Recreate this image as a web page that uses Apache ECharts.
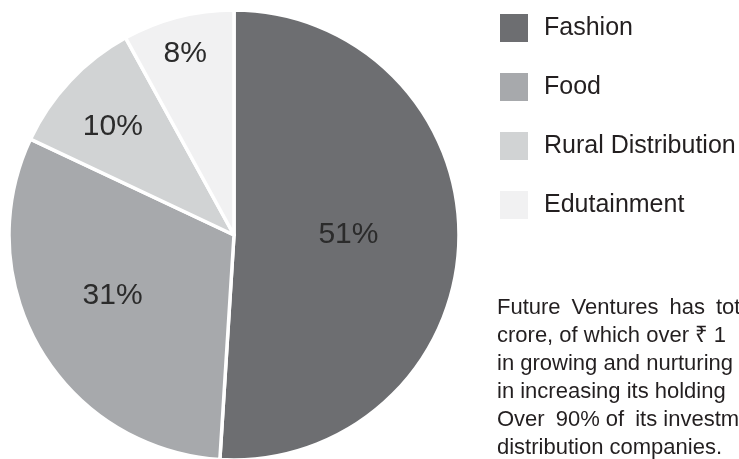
<!DOCTYPE html>
<html>
<head>
<meta charset="utf-8">
<script src="https://cdn.jsdelivr.net/npm/echarts@6/dist/echarts.min.js"></script>
<style>
  html, body { margin: 0; padding: 0; background: #fff; }
  #chart { width: 739px; height: 459px; }
</style>
</head>
<body>
<div id="chart"></div>
<script>
// portfolio split
const categories = ['Fashion', 'Food', 'Rural Distribution', 'Edutainment']
const shares = [51, 31, 10, 8]
const sliceColors = ['#6d6e71', '#a7a9ac', '#d1d3d4', '#f1f1f2']

// side note, cut off by the page edge in the original (en spaces stand in for the justify)
const noteLines = [
  'Future\u2002Ventures\u2002has\u2002tot',
  'crore, of which over ₹ 1',
  'in growing and nurturing',
  'in increasing its holding',
  'Over\u200290% of\u2002its investm',
  'distribution companies.'
]

const font = '"Liberation Sans", "Noto Sans", "DejaVu Sans", sans-serif'

// nudges for the percent labels, they sit further out than the default
const labelShift = [[-1, -4], [-22, 2], [-37, -29], [-20, -69]]

const chart = echarts.init(document.getElementById('chart'))

const option = {
  animation: false,
  color: sliceColors,
  legend: {
    orient: 'vertical',
    left: 498,
    top: 12,
    padding: 0,
    icon: 'rect',
    itemWidth: 30,
    itemHeight: 30,
    itemGap: 27,
    textStyle: {
      fontFamily: font,
      fontSize: 25,
      color: '#231f20',
      padding: [0, 0, 0, 10]
    },
    data: categories
  },
  graphic: [
    {
      type: 'text',
      x: 497,
      y: 294,
      silent: true,
      style: {
        text: noteLines.join('\n'),
        font: '22px ' + font,
        lineHeight: 28,
        fill: '#231f20',
        verticalAlign: 'top'
      }
    }
  ],
  series: [
    {
      type: 'pie',
      center: [234, 235],
      radius: 225,
      startAngle: 90,
      clockwise: true,
      itemStyle: {
        borderColor: '#fff',
        borderWidth: 3.5
      },
      label: {
        show: true,
        position: 'inside',
        formatter: '{c}%',
        fontFamily: font,
        fontSize: 30,
        color: '#2b2b2b'
      },
      labelLayout: function (params) {
        const s = labelShift[params.dataIndex] || [0, 0]
        return { dx: s[0], dy: s[1] }
      },
      emphasis: { disabled: true },
      data: categories.map((name, i) => ({ name: name, value: shares[i] }))
    }
  ]
}

chart.setOption(option)
</script>
</body>
</html>
